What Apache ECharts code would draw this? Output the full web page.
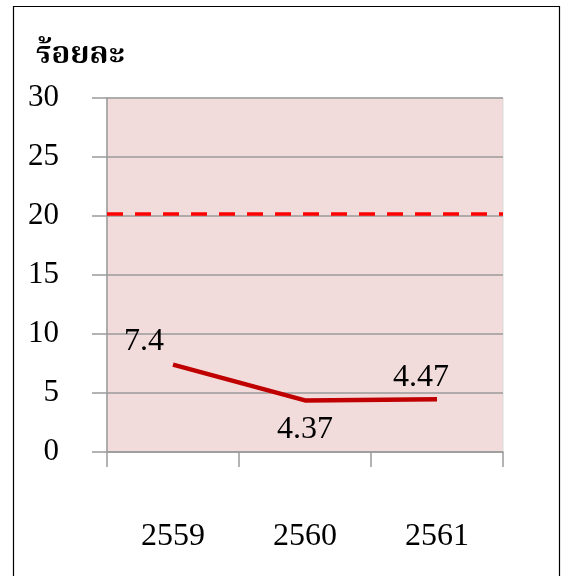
<!DOCTYPE html>
<html>
<head>
<meta charset="utf-8">
<script src="https://cdn.jsdelivr.net/npm/echarts@6/dist/echarts.min.js"></script>
<style>
  html, body { margin: 0; padding: 0; background: #fff; }
  #chart { width: 562px; height: 576px; }
</style>
</head>
<body>
<div id="chart"></div>
<script>
// Years (Buddhist era) and the percentage for each
const years = ['2559', '2560', '2561'];
const percentValues = [7.4, 4.37, 4.47];
// Target threshold shown as a dashed reference line
const thresholdValue = 20.2;
const yTicks = { min: 0, max: 30, interval: 5 };
const unitTitle = 'ร้อยละ';

const serif = '"Liberation Serif", "DejaVu Serif", serif';

const chart = echarts.init(document.getElementById('chart'), null, { renderer: 'canvas' });

const labelOffsets = [[-29, 1], [0, 5], [-16, 3]];
const labelPositions = ['top', 'bottom', 'top'];

chart.setOption({
  animation: false,
  backgroundColor: '#ffffff',
  graphic: [
    {
      type: 'rect',
      shape: { x: 13.5, y: 6.5, width: 546, height: 600 },
      style: { fill: 'none', stroke: '#000', lineWidth: 1.2 }
    },
    {
      type: 'text',
      left: 36,
      top: 42,
      style: {
        text: unitTitle,
        font: 'bold 31px "Noto Serif Thai", "Noto Sans Thai", "Noto Sans", "DejaVu Sans", sans-serif',
        fill: '#000'
      }
    }
  ],
  grid: {
    left: 107, top: 98, right: 59, bottom: 124,
    show: true,
    backgroundColor: '#f2dcdb',
    borderColor: '#d9d9d9',
    borderWidth: 1
  },
  xAxis: {
    type: 'category',
    data: years,
    boundaryGap: true,
    axisLine: { show: true, lineStyle: { color: '#9a9a9a', width: 1.5 } },
    axisTick: { show: true, length: 15, alignWithLabel: false, lineStyle: { color: '#9a9a9a', width: 1.5 } },
    axisLabel: { margin: 69, color: '#000', fontFamily: serif, fontSize: 32 },
    splitLine: { show: false }
  },
  yAxis: {
    type: 'value',
    min: yTicks.min,
    max: yTicks.max,
    interval: yTicks.interval,
    axisLine: { show: true, lineStyle: { color: '#9a9a9a', width: 1.5 } },
    axisTick: { show: true, length: 15, lineStyle: { color: '#9a9a9a', width: 1.5 } },
    axisLabel: { margin: 48, color: '#000', fontFamily: serif, fontSize: 31 },
    splitLine: { show: true, lineStyle: { color: '#9a9a9a', width: 1.5 } }
  },
  series: [
    {
      type: 'line',
      data: percentValues.map((v, i) => ({
        value: v,
        label: {
          show: true,
          position: labelPositions[i],
          offset: labelOffsets[i],
          formatter: String(v)
        }
      })),
      symbol: 'circle',
      symbolSize: 1,
      showSymbol: true,
      itemStyle: { color: 'rgba(0,0,0,0)' },
      lineStyle: { color: '#c00000', width: 4.5 },
      label: { show: true, color: '#000', fontFamily: serif, fontSize: 32, distance: 8 },
      markLine: {
        silent: true,
        symbol: 'none',
        label: { show: false },
        lineStyle: { color: '#ff0000', type: [16, 12], width: 3.5 },
        data: [{ yAxis: thresholdValue }]
      },
      z: 3
    }
  ]
});
</script>
</body>
</html>
